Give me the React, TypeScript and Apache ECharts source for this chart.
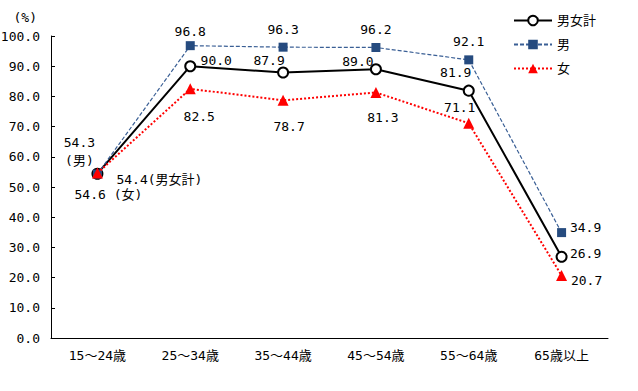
import React, { useEffect, useRef } from "react";
import * as echarts from "echarts";

const categories = ["15～24歳", "25～34歳", "35～44歳", "45～54歳", "55～64歳", "65歳以上"];
const totalValues = [54.4, 90.0, 87.9, 89.0, 81.9, 26.9];
const maleValues = [54.3, 96.8, 96.3, 96.2, 92.1, 34.9];
const femaleValues = [54.6, 82.5, 78.7, 81.3, 71.1, 20.7];
const seriesNames = ["男女計", "男", "女"];

const FONT = "'DejaVu Sans Mono', 'Noto Sans CJK JP', monospace";

const totalOffsets: number[][] = [[62, 6], [26, -6], [-14, -12], [-18, -8], [-13, -18], [24, -3]];
const maleOffsets: number[][] = [[-18, -23], [0, -14], [0, -18], [0, -18], [0, -18], [24, -5]];
const femaleOffsets: number[][] = [[11, 21], [9, 28], [6, 26], [7, 25], [-9, -16], [25, 5]];
const firstSuffix = ["(男女計)", "\n(男)", " (女)"];

function buildData(values: number[], offsets: number[][], suffix: string) {
  return values.map((v, i) => ({
    value: v,
    label: {
      show: true,
      position: "inside",
      offset: offsets[i],
      align: "center",
      verticalAlign: "middle",
      color: "#000",
      fontFamily: FONT,
      fontSize: 13,
      lineHeight: 18,
      formatter: () => (i === 0 ? v.toFixed(1) + suffix : v.toFixed(1)),
    },
  }));
}

export default function App() {
  const ref = useRef<HTMLDivElement>(null);
  useEffect(() => {
    if (!ref.current) return;
    const chart = echarts.init(ref.current, null, { renderer: "svg" });
    chart.setOption({
      animation: false,
      backgroundColor: "#fff",
      textStyle: { fontFamily: FONT },
      legend: {
        orient: "vertical",
        left: 508,
        top: 9,
        itemWidth: 38,
        itemHeight: 12,
        itemGap: 11,
        textStyle: { fontFamily: FONT, fontSize: 13, color: "#000" },
        data: seriesNames,
      },
      grid: { left: 51, right: 30, top: 36, bottom: 53, containLabel: false, outerBoundsMode: "none" },
      xAxis: {
        type: "category",
        data: categories,
        boundaryGap: true,
        axisLine: { lineStyle: { color: "#000", width: 1 } },
        axisTick: { show: false },
        axisLabel: { color: "#000", fontFamily: FONT, fontSize: 13, margin: 11 },
      },
      yAxis: {
        type: "value",
        min: 0,
        max: 100,
        interval: 10,
        name: "(%)",
        nameLocation: "end",
        nameGap: 12,
        nameTextStyle: { color: "#000", fontFamily: FONT, fontSize: 13, align: "right", padding: [0, 14, 0, 0] },
        axisLine: { show: true, lineStyle: { color: "#000", width: 1 } },
        axisTick: { show: true, inside: true, length: 4, lineStyle: { color: "#000" } },
        splitLine: { show: false },
        axisLabel: { color: "#000", fontFamily: FONT, fontSize: 13, margin: 11, formatter: (v: number) => v.toFixed(1) },
      },
      series: [
        {
          name: seriesNames[0],
          type: "line",
          data: buildData(totalValues, totalOffsets, firstSuffix[0]),
          symbol: "circle",
          symbolSize: 10,
          color: "#000",
          lineStyle: { color: "#000", width: 2, type: "solid" },
          itemStyle: { color: "#fff", borderColor: "#000", borderWidth: 2 },
          z: 3,
        },
        {
          name: seriesNames[1],
          type: "line",
          data: buildData(maleValues, maleOffsets, firstSuffix[1]),
          symbol: "rect",
          symbolSize: 9,
          color: "#264b7f",
          lineStyle: { color: "#3a5f95", width: 1.2, type: [4, 2] },
          itemStyle: { color: "#264b7f" },
          z: 4,
        },
        {
          name: seriesNames[2],
          type: "line",
          data: buildData(femaleValues, femaleOffsets, firstSuffix[2]),
          symbol: "triangle",
          symbolSize: 11,
          color: "#ff0000",
          lineStyle: { color: "#ff0000", width: 2, type: [2, 2] },
          itemStyle: { color: "#ff0000" },
          z: 5,
        },
      ],
    });
    return () => chart.dispose();
  }, []);
  return <div ref={ref} style={{ width: 638, height: 391, position: "absolute", left: 0, top: 0 }} />;
}
